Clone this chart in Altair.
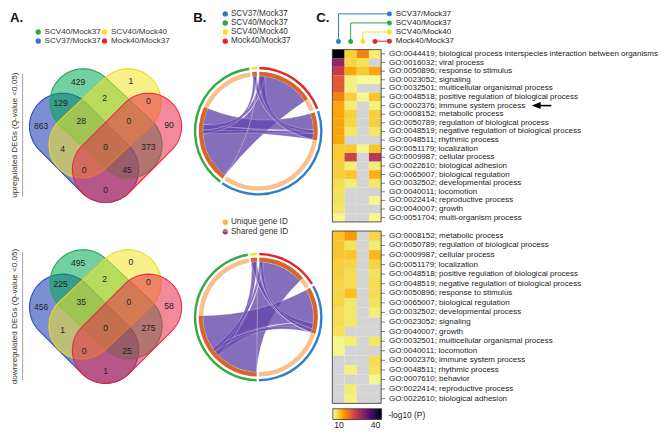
import math
from itertools import combinations
import altair as alt
import pandas as pd

K = 0.977
W = 656
H = 426
FONT = "Liberation Sans"

# ---------------- data ----------------
comparisons = ["SCV37/Mock37", "SCV40/Mock37", "SCV40/Mock40", "Mock40/Mock37"]
set_keys = ["B", "G", "Y", "R"]  # blue, green, yellow, red = comparisons order

# Venn regions (letters = sets containing the region)
region_names = ["B", "G", "Y", "R", "BG", "GY", "YR", "BY", "BR", "GR", "BGY", "GYR", "BYR", "BGR", "BGYR"]
up_counts = [863, 429, 1, 90, 129, 2, 0, 4, 0, 373, 28, 0, 0, 45, 0]
down_counts = [456, 495, 0, 58, 225, 2, 0, 1, 1, 275, 35, 0, 0, 25, 0]

go_up_terms = [
    "GO:0044419; biological process interspecies interaction between organisms",
    "GO:0016032; viral process",
    "GO:0050896; response to stimulus",
    "GO:0023052; signaling",
    "GO:0032501; multicellular organismal process",
    "GO:0048518; positive regulation of biological process",
    "GO:0002376; immune system process",
    "GO:0008152; metabolic process",
    "GO:0050789; regulation of biological process",
    "GO:0048519; negative regulation of biological process",
    "GO:0048511; rhythmic process",
    "GO:0051179; localization",
    "GO:0009987; cellular process",
    "GO:0022610; biological adhesion",
    "GO:0065007; biological regulation",
    "GO:0032502; developmental process",
    "GO:0040011; locomotion",
    "GO:0022414; reproductive process",
    "GO:0040007; growth",
    "GO:0051704; multi-organism process",
]
up_scv37_mock37 = [45, 29, 24, 20, 20, 16, 13, 13, 13, 13, 13, 10, 10, 9.5, 9.5, 8.5, 8, 8, 7.5, 6]
up_scv40_mock37 = [9.5, 9, 13, 6.5, 6.5, 9.5, 7, 9.5, 9, 7.5, None, 10, 23, 7, 10.5, 7, None, None, None, None]
up_scv40_mock40 = [16, 8, 10, 5.5, None, 6, None, None, None, None, None, 6, None, None, None, None, None, None, None, None]
up_mock40_mock37 = [7, None, 13, 5.5, None, 10.5, 6.5, 9.5, 9.5, 7.5, None, 10.5, 25, 7, 12, 7.5, None, 6, None, 6]

go_down_terms = [
    "GO:0008152; metabolic process",
    "GO:0050789; regulation of biological process",
    "GO:0009987; cellular process",
    "GO:0051179; localization",
    "GO:0048518; positive regulation of biological process",
    "GO:0048519; negative regulation of biological process",
    "GO:0050896; response to stimulus",
    "GO:0065007; biological regulation",
    "GO:0032502; developmental process",
    "GO:0023052; signaling",
    "GO:0040007; growth",
    "GO:0032501; multicellular organismal process",
    "GO:0040011; locomotion",
    "GO:0002376; immune system process",
    "GO:0048511; rhythmic process",
    "GO:0007610; behavior",
    "GO:0022414; reproductive process",
    "GO:0022610; biological adhesion",
]
down_scv37_mock37 = [10.5, 10.5, 10.5, 9.5, 9.5, 9, 9, 9, 8.5, 8.5, 8, 6, 6, None, None, None, None, None]
down_scv40_mock37 = [14, 8, 10.5, 9, 8.5, 8.5, 11, 7.5, 7.5, 7.5, None, 7, None, None, 6.5, None, 7, 6.5]
down_scv40_mock40 = [None] * 18
down_mock40_mock37 = [9, 7, 11.5, 9, 8, 8.5, 8.5, 8, 7, None, None, 7.5, None, 8.5, 8, 6, None, None]

highlight_term = "GO:0002376; immune system process"

# ---------------- styles / layout ----------------
legend_colors = {"B": "#2c7bc9", "G": "#29a845", "Y": "#f6df1b", "R": "#e4252b"}
venn_fill = {"B": "#1133b3", "G": "#00aa52", "Y": "#f2e427", "R": "#e72a4b"}
venn_stroke = {"B": "#2b46c0", "G": "#1fa55a", "Y": "#efd81e", "R": "#e8283c"}
ring_colors = {"B": "#3080c8", "G": "#38a845", "Y": "#f6e01a", "R": "#e02828"}
SHARED_C = "#d9642a"
UNIQUE_C = "#f8c08c"
RIBBON_C = "#6247aa"

venn_caps = {"B": ((56, 121), (100, 165)), "G": ((77, 96), (124, 140)),
             "Y": ((123, 96), (76, 140)), "R": ((144, 121), (100, 165))}
VENN_R = 34
venn_label_pos = {"B": (34, 121), "G": (72, 76), "Y": (126, 75), "R": (165, 120),
                  "BG": (54, 97), "GY": (99, 92), "YR": (144, 95), "BY": (56, 144),
                  "BR": (100, 186), "GR": (144, 142), "BGY": (75, 116), "GYR": (124, 116),
                  "BYR": (78, 166), "BGR": (122, 166), "BGYR": (100, 142)}
VENN_DY = [0, 185.5]

CHORD_C = [(256.5, 126), (256.5, 316.5)]
R_OUT = (63.5, 66.0)
R_IN = (56.5, 61.0)
BOW = 0.12

HX = (332.5, 382.5)
HY_UP = (42.3, 219.0)
HY_DN = (228.3, 405.0)
LABEL_FS = 8.2


def xs(field="x"):
    return alt.X(f"{field}:Q", scale=alt.Scale(domain=[0, 671], range=[0, 671 * K]), axis=None)


def ys(field="y"):
    return alt.Y(f"{field}:Q", scale=alt.Scale(domain=[0, 434], range=[0, 434 * K]), axis=None)


def texts(rows, size, color="#222222", align="left", baseline="middle", weight="normal", angle=0):
    df = pd.DataFrame(rows, columns=["x", "y", "t"])
    return alt.Chart(df).mark_text(font=FONT, fontSize=size * K, color=color, align=align,
                                   baseline=baseline, fontWeight=weight, angle=angle).encode(
        x=xs(), y=ys(), text="t:N")


def dots(rows, size):
    df = pd.DataFrame(rows, columns=["x", "y", "c"])
    return alt.Chart(df).mark_point(filled=True, shape="circle", size=size * K * K, opacity=1).encode(
        x=xs(), y=ys(), fill=alt.Fill("c:N", scale=None))


def rules(rows, width):
    df = pd.DataFrame(rows, columns=["x", "y", "x2", "y2", "c"])
    return alt.Chart(df).mark_rule(strokeWidth=width).encode(
        x=xs(), y=ys(), x2="x2:Q", y2="y2:Q", stroke=alt.Stroke("c:N", scale=None))


def fmt(pts):
    return "M" + " L".join(f"{x:.2f} {y:.2f}" for x, y in pts) + " Z"


def stadium(p1, p2, r, n=28):
    cx_, cy_ = (p1[0] + p2[0]) / 2, (p1[1] + p2[1]) / 2
    base = math.atan2(p2[1] - p1[1], p2[0] - p1[0])
    pts = []
    for i in range(n + 1):
        a = base - math.pi / 2 + math.pi * i / n
        pts.append((p2[0] + r * math.cos(a) - cx_, p2[1] + r * math.sin(a) - cy_))
    for i in range(n + 1):
        a = base + math.pi / 2 + math.pi * i / n
        pts.append((p1[0] + r * math.cos(a) - cx_, p1[1] + r * math.sin(a) - cy_))
    return cx_, cy_, fmt(pts)


def pol(theta, r):
    t = math.radians(theta)
    return (r * math.sin(t), -r * math.cos(t))


def arc_pts(a1, a2, r):
    n = max(2, int(abs(a2 - a1) / 2) + 1)
    return [pol(a1 + (a2 - a1) * i / n, r) for i in range(n + 1)]


def ctrl(p, q):
    return ((p[0] + q[0]) / 2 * BOW, (p[1] + q[1]) / 2 * BOW)


def ribbon_path(a1, a2, b1, b2, r):
    P = arc_pts(a1, a2, r)
    Q = arc_pts(b1, b2, r)
    c1 = ctrl(P[-1], Q[0])
    c2 = ctrl(Q[-1], P[0])
    d = f"M{P[0][0]:.2f} {P[0][1]:.2f}"
    d += "".join(f" L{x:.2f} {y:.2f}" for x, y in P[1:])
    d += f" Q{c1[0]:.2f} {c1[1]:.2f} {Q[0][0]:.2f} {Q[0][1]:.2f}"
    d += "".join(f" L{x:.2f} {y:.2f}" for x, y in Q[1:])
    d += f" Q{c2[0]:.2f} {c2[1]:.2f} {P[0][0]:.2f} {P[0][1]:.2f} Z"
    return d


layers = []

# ---------------- panel titles ----------------
layers.append(texts([(2, 14.5, "A."), (190, 14, "B."), (316, 14, "C.")], 13.5,
                    color="#111111", baseline="alphabetic", weight="bold"))

# ---------------- A: legend ----------------
layers.append(dots([(31, 24.3, legend_colors["G"]), (99, 24.3, legend_colors["Y"]),
                    (31, 33.5, legend_colors["B"]), (99, 33.5, legend_colors["R"])], 30))
layers.append(texts([(37.5, 24.3, "SCV40/Mock37"), (105.5, 24.3, "SCV40/Mock40"),
                     (37.5, 33.5, "SCV37/Mock37"), (105.5, 33.5, "Mock40/Mock37")], 8.3, color="#333333"))

# ---------------- A: Venn diagrams ----------------
venn_rows = []
for dy in VENN_DY:
    for s in set_keys:
        p1, p2 = venn_caps[s]
        cx_, cy_, d = stadium(p1, p2, VENN_R)
        venn_rows.append({"x": cx_, "y": cy_ + dy, "path": d, "f": venn_fill[s], "s": venn_stroke[s]})
venn_df = pd.DataFrame(venn_rows)
layers.append(alt.Chart(venn_df).mark_point(filled=True, opacity=1, fillOpacity=0.55, strokeWidth=1.1,
                                             strokeOpacity=0.95).encode(
    x=xs(), y=ys(), shape=alt.Shape("path:N", scale=None), fill=alt.Fill("f:N", scale=None),
    stroke=alt.Stroke("s:N", scale=None), size=alt.value(4 * K * K)))

count_rows = []
for dy, counts in zip(VENN_DY, [up_counts, down_counts]):
    for name, c in zip(region_names, counts):
        px, py = venn_label_pos[name]
        count_rows.append((px, py + dy, str(c)))
layers.append(texts(count_rows, 8.8, color="#222222", align="center"))

layers.append(rules([(15, 67, 15, 193, "#8a8a8a"), (15, 250, 15, 381, "#8a8a8a")], 0.8))
layers.append(texts([(7, 130, "upregulated DEGs (Q-value <0.05)"),
                     (7, 316, "downregulated DEGs (Q-value <0.05)")], 8.3, color="#333333",
                    align="center", angle=270))

# ---------------- B: legends ----------------
layers.append(dots([(222.7, 5.7, legend_colors["B"]), (222.7, 15, legend_colors["G"]),
                    (222.7, 24.3, legend_colors["Y"]), (222.7, 33.7, legend_colors["R"]),
                    (222.7, 219.3, "#f6ad55")], 30))
layers.append(texts([(228.5, 5.7, "SCV37/Mock37"), (228.5, 15, "SCV40/Mock37"),
                     (228.5, 24.3, "SCV40/Mock40"), (228.5, 33.7, "Mock40/Mock37"),
                     (228.5, 219.3, "Unique gene ID"), (228.5, 229, "Shared gene ID")], 8.4, color="#333333"))
half_top = fmt([pol(-90 + 180 * i / 16, 1) for i in range(17)])
half_bot = fmt([pol(90 + 180 * i / 16, 1) for i in range(17)])
layers.append(alt.Chart(pd.DataFrame([{"x": 222.7, "y": 229, "path": half_top, "c": SHARED_C},
                                      {"x": 222.7, "y": 229, "path": half_bot, "c": RIBBON_C}])).mark_point(
    filled=True, opacity=1).encode(x=xs(), y=ys(), shape=alt.Shape("path:N", scale=None),
                                   fill=alt.Fill("c:N", scale=None), size=alt.value(4 * (2.8 * K) ** 2)))

# ---------------- B: chord diagrams ----------------
order = ["R", "B", "G", "Y"]
GAP = 2.2
START = 1.0
outer_rows, inner_rows, ribbon_rows = [], [], []
for (ccx, ccy), counts in zip(CHORD_C, [up_counts, down_counts]):
    reg = dict(zip(region_names, counts))
    tot = {s: sum(v for k, v in reg.items() if s in k) for s in set_keys}
    uniq = {s: reg[s] for s in set_keys}
    avail = 360 - len(order) * GAP
    total = sum(tot.values())
    seg, a = {}, START
    for s in order:
        span = tot[s] / total * avail
        seg[s] = (a, a + span)
        a += span + GAP
    shared_end = {}
    for s in order:
        a0, a1 = seg[s]
        outer_rows.append({"cx": ccx, "cy": ccy, "a0": a0, "a1": a1, "c": ring_colors[s]})
        se = a0 + (tot[s] - uniq[s]) / tot[s] * (a1 - a0)
        shared_end[s] = se
        inner_rows.append({"cx": ccx, "cy": ccy, "a0": a0, "a1": se, "c": SHARED_C})
        inner_rows.append({"cx": ccx, "cy": ccy, "a0": se, "a1": a1, "c": UNIQUE_C})
    mid = {s: (seg[s][0] + seg[s][1]) / 2 for s in order}
    pos = {}
    for s in set_keys:
        regs = [k for k in region_names if s in k and len(k) > 1 and reg[k] > 0]

        def offset(k, s=s):
            others = [o for o in k if o != s]
            return sum((mid[o] - mid[s]) % 360 for o in others) / len(others)

        regs.sort(key=offset)
        a = seg[s][0]
        nshared = tot[s] - uniq[s]
        for k in regs:
            w = reg[k] / nshared * (shared_end[s] - seg[s][0])
            pos[(s, k)] = (a, a + w)
            a += w
    links = []
    for k in region_names:
        if len(k) > 1 and reg[k] > 0:
            for a, b in combinations(k, 2):
                links.append((reg[k], pos[(a, k)], pos[(b, k)]))
    links.sort(key=lambda t: -t[0])
    for _, (a1, a2), (b1, b2) in links:
        ribbon_rows.append({"cx": ccx, "cy": ccy, "path": ribbon_path(a1, a2, b1, b2, R_IN[0])})

theta_scale = alt.Scale(domain=[0, 360], range=[0, 2 * math.pi])
for rows, (ri, ro) in [(outer_rows, R_OUT), (inner_rows, R_IN)]:
    layers.append(alt.Chart(pd.DataFrame(rows)).mark_arc(innerRadius=ri * K, outerRadius=ro * K).encode(
        x=xs("cx"), y=ys("cy"),
        theta=alt.Theta("a0:Q", scale=theta_scale, stack=None), theta2="a1:Q",
        fill=alt.Fill("c:N", scale=None)))
layers.append(alt.Chart(pd.DataFrame(ribbon_rows)).mark_point(
    filled=True, opacity=1, fill=RIBBON_C, fillOpacity=0.78, stroke="#ffffff", strokeWidth=0.4,
    strokeOpacity=0.5).encode(
    x=xs("cx"), y=ys("cy"), shape=alt.Shape("path:N", scale=None), size=alt.value(4 * K * K)))

# ---------------- C: heatmap ----------------
hx = alt.Scale(domain=comparisons, range=[HX[0] * K, HX[1] * K], paddingInner=0, paddingOuter=0)
cscale = alt.Scale(scheme="inferno", reverse=True, domain=[5, 45], clamp=True)

blocks = [
    (go_up_terms, [up_scv37_mock37, up_scv40_mock37, up_scv40_mock40, up_mock40_mock37], HY_UP, True),
    (go_down_terms, [down_scv37_mock37, down_scv40_mock37, down_scv40_mock40, down_mock40_mock37], HY_DN, False),
]
for terms, cols, (y0, y1), first in blocks:
    hy = alt.Scale(domain=terms, range=[y0 * K, y1 * K], paddingInner=0, paddingOuter=0)
    cells = []
    for comp, vals in zip(comparisons, cols):
        for t, v in zip(terms, vals):
            cells.append({"comp": comp, "term": t, "v": v})
    cdf = pd.DataFrame(cells)
    xenc = alt.X("comp:N", scale=hx, axis=None)
    yenc = alt.Y("term:N", scale=hy, axis=None)
    layers.append(alt.Chart(cdf).mark_rect(color="#d4d4d4").encode(x=xenc, y=yenc))
    legend = alt.Legend(orient="none", legendX=333 * K, legendY=410.5 * K, direction="horizontal",
                        gradientLength=50 * K, gradientThickness=11 * K, title=None, values=[10, 40],
                        labelFont=FONT, labelFontSize=8.8 * K, labelColor="#222222",
                        gradientStrokeColor="#333333", gradientStrokeWidth=0.8, labelOffset=2) if first else None
    layers.append(alt.Chart(cdf[cdf["v"].notna()]).mark_rect().encode(
        x=xenc, y=yenc, color=alt.Color("v:Q", scale=cscale, legend=legend)))
    layers.append(alt.Chart(pd.DataFrame({"term": terms})).mark_rule(color="#444444", strokeWidth=0.7).encode(
        y=yenc, x=alt.value(382.5 * K), x2=alt.value(386.5 * K)))
    layers.append(alt.Chart(pd.DataFrame({"term": terms})).mark_text(
        font=FONT, fontSize=LABEL_FS * K, color="#222222", align="left", baseline="middle").encode(
        y=yenc, x=alt.value(390.5 * K), text="term:N"))
    if first:
        hl = pd.DataFrame({"term": [highlight_term]})
        layers.append(alt.Chart(hl).mark_rule(color="#000000", strokeWidth=1.6).encode(
            y=yenc, x=alt.value(541 * K), x2=alt.value(557 * K)))
        layers.append(alt.Chart(hl).mark_point(shape="M-1 0 L1 -0.8 L1 0.8 Z", filled=True, color="#000000",
                                               opacity=1, size=4 * (4.5 * K) ** 2).encode(
            y=yenc, x=alt.value(541.5 * K)))

# heatmap frames
frame_df = pd.DataFrame([{"x": HX[0], "x2": HX[1], "y": HY_UP[0], "y2": HY_UP[1]},
                         {"x": HX[0], "x2": HX[1], "y": HY_DN[0], "y2": HY_DN[1]}])
layers.append(alt.Chart(frame_df).mark_rect(filled=False, stroke="#333333", strokeWidth=0.8).encode(
    x=xs(), x2="x2:Q", y=ys(), y2="y2:Q"))

layers.append(texts([(390, 417, "-log10 (P)")], 8.6, color="#222222"))

# ---------------- C: column key ----------------
levels = [5.7, 15.0, 24.3, 33.7]
key_df = pd.DataFrame({"comp": comparisons, "lvl": levels, "bot": [34.0] * 4,
                       "c": [legend_colors[s] for s in set_keys]})
kx = alt.X("comp:N", scale=hx, axis=None)
layers.append(alt.Chart(key_df.iloc[:3]).mark_rule(strokeWidth=1).encode(
    x=kx, y=ys("lvl"), y2="bot:Q", stroke=alt.Stroke("c:N", scale=None)))
layers.append(alt.Chart(key_df).mark_rule(strokeWidth=1).encode(
    x=kx, x2=alt.value(391 * K), y=ys("lvl"), stroke=alt.Stroke("c:N", scale=None)))
layers.append(alt.Chart(key_df).mark_point(filled=True, shape="circle", opacity=1, size=26 * K * K).encode(
    x=kx, y=ys("bot"), fill=alt.Fill("c:N", scale=None)))
layers.append(dots([(391, lv, legend_colors[s]) for lv, s in zip(levels, set_keys)], 26))
layers.append(texts([(397.5, lv, c) for lv, c in zip(levels, comparisons)], 8.2, color="#222222"))

chart = alt.layer(*layers).resolve_scale(x="independent", y="independent").properties(
    width=W, height=H, padding=0, autosize=alt.AutoSizeParams(type="none"), background="white"
).configure_view(stroke=None)

chart.save("out.html", embed_options={"renderer": "svg", "actions": False})
